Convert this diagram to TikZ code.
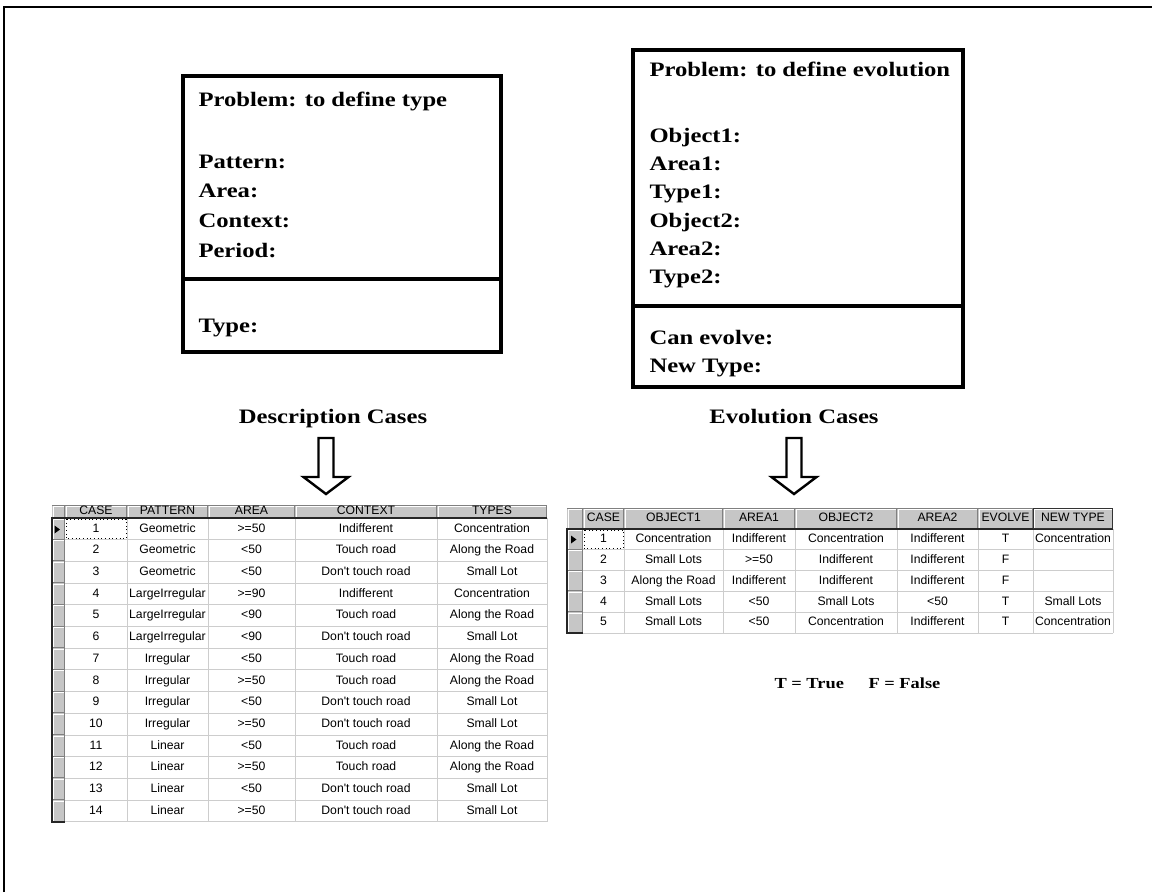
\documentclass[tikz,border=0pt]{standalone}
\usepackage{fontspec}
\setmainfont{Liberation Serif}
\newfontfamily\labelfont[FakeStretch=1.2]{Liberation Serif}
\newfontfamily\gridfont{Liberation Sans}
\definecolor{winface}{RGB}{198,198,198}
\definecolor{winshade}{RGB}{128,128,128}
\definecolor{gridline}{RGB}{205,205,205}

% Windows-style data grid
% #1 left, #2 indicator right, #3 right, #4 top, #5 header bottom,
% #6 row height, #7 number of rows, #8 right edges of data columns
\newcommand\drawgrid[8]{%
  \pgfmathsetmacro\gbot{#5+#7*#6}
  \fill[white] (#2,#5) rectangle (#3,\gbot);
  \fill[winface] (#1,#4) rectangle (#3,#5);
  \fill[winface] (#1,#5) rectangle (#2,\gbot);
  \foreach \k in {1,...,#7} \draw[gridline] (#2,{#5+\k*#6}) -- (#3,{#5+\k*#6});
  \foreach \xx in {#8} \draw[gridline] (\xx,#5) -- (\xx,\gbot);
  \foreach \xb [remember=\xb as \xa (initially #1)] in {#2,#8} {
    \draw[white] ({\xa+1},{#5-1}) -- ({\xa+1},{#4+1}) -- ({\xb-1},{#4+1});
    \draw[winshade] ({\xb-0.5},#4) -- ({\xb-0.5},#5);
  }
  \foreach \k in {1,...,#7} {
    \draw[white] ({#1+1},{#5+\k*#6-1}) -- ({#1+1},{#5+(\k-1)*#6+1}) -- ({#2-1},{#5+(\k-1)*#6+1});
    \draw[winshade] (#1,{#5+\k*#6-0.5}) -- ({#2-0.5},{#5+\k*#6-0.5}) -- ({#2-0.5},{#5+(\k-1)*#6});
  }
  \draw[winshade] (#1,#4) -- (#3,#4);
  \draw[black!85, line width=1.2pt] (#3,#5) -- (#1,#5) -- (#1,\gbot) -- (#2,\gbot);
}

\begin{document}
\begin{tikzpicture}[x=0.75pt, y=-0.75pt, line width=0.75pt,
  lbl/.style={anchor=base west, inner sep=0pt,
    font=\labelfont\bfseries\fontsize{15.4}{18}\selectfont},
  heading/.style={lbl, anchor=base},
  note/.style={lbl, font=\labelfont\bfseries\fontsize{11.5}{14}\selectfont},
  panel/.style={line width=2.6pt},
  cell/.style={inner sep=0pt, text height=6.8pt, text depth=1.9pt,
    font=\gridfont\fontsize{9.15}{11}\selectfont},
  blockarrow/.pic={
    \draw[line width=1.8pt, fill=white, line join=miter]
      (-7.5,0) -- (7.5,0) -- (7.5,39) -- (22.5,39) -- (0,56)
      -- (-22.5,39) -- (-7.5,39) -- cycle;
  }]
\useasboundingbox (0,0) rectangle (1152,892);
\fill[white] (0,0) rectangle (1152,892);

% page frame
\draw[line width=2pt] (4,892) -- (4,7) -- (1152,7);

% ---- problem description frames ----
\draw[panel] (183,76) rectangle (501,352);
\draw[panel] (183,279) -- (501,279);
\node[lbl] (p1)  at (198,106) {Problem: to define type};
\node[lbl] (p1a) at (198,168) {Pattern:};
\node[lbl] (p1b) at (198,197) {Area:};
\node[lbl] (p1c) at (198,227) {Context:};
\node[lbl] (p1d) at (198,257) {Period:};
\node[lbl] (p1e) at (198,332) {Type:};

\draw[panel] (633,50) rectangle (963,387);
\draw[panel] (633,306) -- (963,306);
\node[lbl] (p2)  at (649,77)  {Problem: to define evolution};
\node[lbl] (p2a) at (649,142) {Object1:};
\node[lbl] (p2b) at (649,170) {Area1:};
\node[lbl] (p2c) at (649,198) {Type1:};
\node[lbl] (p2d) at (649,227) {Object2:};
\node[lbl] (p2e) at (649,255) {Area2:};
\node[lbl] (p2f) at (649,283) {Type2:};
\node[lbl] (p2g) at (649,344) {Can evolve:};
\node[lbl] (p2h) at (649,372) {New Type:};

% ---- headings and arrows ----
\node[heading] (desc) at (333,423) {Description Cases};
\node[heading] (evol) at (794,423) {Evolution Cases};
\coordinate (descarrow) at (326,438);
\coordinate (evolarrow) at (794,438);
\pic at (descarrow) {blockarrow};
\pic at (evolarrow) {blockarrow};

% ---- description cases grid ----
\drawgrid{52}{65}{547}{505}{518}{21.7}{14}{127,208,295,437,547}
\foreach \cx/\ct [count=\n] in {96/CASE,167.5/PATTERN,251.5/AREA,366/CONTEXT,492/TYPES}
  \node[cell] (dh-\n) at (\cx,511.5) {\ct};
\foreach \k/\p/\a/\c/\t in {
  1/Geometric/{>=50}/Indifferent/Concentration,
  2/Geometric/{<50}/Touch road/Along the Road,
  3/Geometric/{<50}/Don't touch road/Small Lot,
  4/LargeIrregular/{>=90}/Indifferent/Concentration,
  5/LargeIrregular/{<90}/Touch road/Along the Road,
  6/LargeIrregular/{<90}/Don't touch road/Small Lot,
  7/Irregular/{<50}/Touch road/Along the Road,
  8/Irregular/{>=50}/Touch road/Along the Road,
  9/Irregular/{<50}/Don't touch road/Small Lot,
  10/Irregular/{>=50}/Don't touch road/Small Lot,
  11/Linear/{<50}/Touch road/Along the Road,
  12/Linear/{>=50}/Touch road/Along the Road,
  13/Linear/{<50}/Don't touch road/Small Lot,
  14/Linear/{>=50}/Don't touch road/Small Lot} {
  \pgfmathsetmacro\yy{518+(\k-0.5)*21.7}
  \node[cell] (d-\k-1) at (96,\yy) {\k};
  \node[cell] (d-\k-2) at (167.5,\yy) {\p};
  \node[cell] (d-\k-3) at (251.5,\yy) {\a};
  \node[cell] (d-\k-4) at (366,\yy) {\c};
  \node[cell] (d-\k-5) at (492,\yy) {\t};
}
\fill (54.5,525.5) -- (54.5,533.5) -- (60,529.5) -- cycle;
\draw[dotted, line width=0.75pt] (66,519) rectangle (126,538.7);

% ---- evolution cases grid ----
\drawgrid{567}{583}{1113}{508}{529}{20.8}{5}{624,723,795,897,978,1033,1113}
\draw[black!80] (1033.5,508.5) rectangle (1112.5,528.5);
\foreach \cx/\ct [count=\n] in {603.5/CASE,673.5/OBJECT1,759/AREA1,846/OBJECT2,937.5/AREA2,1005.5/EVOLVE,1073/NEW TYPE}
  \node[cell] (eh-\n) at (\cx,518.5) {\ct};
\foreach \k/\oa/\aa/\ob/\ab/\ev/\nt in {
  1/Concentration/Indifferent/Concentration/Indifferent/T/Concentration,
  2/Small Lots/{>=50}/Indifferent/Indifferent/F/{},
  3/Along the Road/Indifferent/Indifferent/Indifferent/F/{},
  4/Small Lots/{<50}/Small Lots/{<50}/T/Small Lots,
  5/Small Lots/{<50}/Concentration/Indifferent/T/Concentration} {
  \pgfmathsetmacro\yy{529+(\k-0.5)*20.8}
  \node[cell] (e-\k-1) at (603.5,\yy) {\k};
  \node[cell] (e-\k-2) at (673.5,\yy) {\oa};
  \node[cell] (e-\k-3) at (759,\yy) {\aa};
  \node[cell] (e-\k-4) at (846,\yy) {\ob};
  \node[cell] (e-\k-5) at (937.5,\yy) {\ab};
  \node[cell] (e-\k-6) at (1005.5,\yy) {\ev};
  \node[cell] (e-\k-7) at (1073,\yy) {\nt};
}
\fill (571,535.5) -- (571,543.5) -- (576.5,539.5) -- cycle;
\draw[dotted, line width=0.75pt] (584,530) rectangle (623,548.8);

% ---- legend ----
\node[note] (legT) at (774,688) {T = True};
\node[note] (legF) at (868,688) {F = False};
\end{tikzpicture}
\end{document}
